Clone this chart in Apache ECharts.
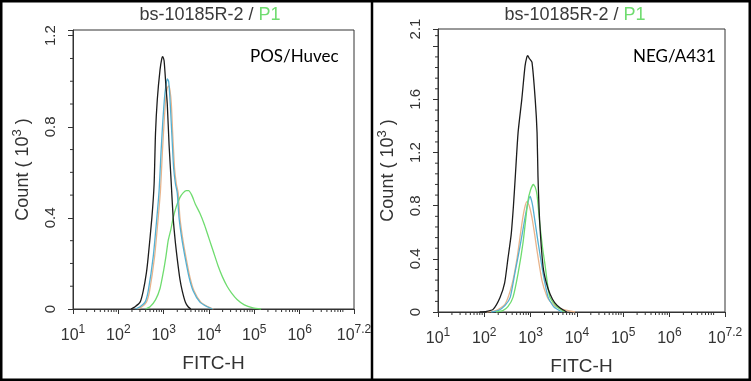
<!DOCTYPE html>
<html><head><meta charset="utf-8">
<script src="https://cdn.jsdelivr.net/npm/echarts@6/dist/echarts.min.js"></script>
<style>html,body{margin:0;padding:0;background:#fff}#c{width:751px;height:381px}</style>
</head><body><div id="c"></div>
<script>
// ---------- data (x = log10 FITC-H, y = count in 10^3) ----------
const titleMain = 'bs-10185R-2 / ';
const titleGate = 'P1';
const panelLabels = ['POS/Huvec', 'NEG/A431'];
const xTickExps = [1, 2, 3, 4, 5, 6, 7.2];
const leftYTicks = ['0', '0.4', '0.8', '1.2'];
const rightYTicks = ['0', '0.4', '0.8', '1.2', '1.6', '2.1'];

const posBlack = [[2.28,0],[2.37,0.01],[2.48,0.03],[2.55,0.08],[2.62,0.16],[2.66,0.23],[2.74,0.40],[2.79,0.55],[2.82,0.77],[2.86,0.92],[2.92,1.05],[2.96,1.10],[2.98,1.108],[3.01,1.09],[3.05,0.98],[3.08,0.90],[3.12,0.72],[3.16,0.58],[3.21,0.40],[3.26,0.29],[3.30,0.22],[3.36,0.13],[3.41,0.08],[3.48,0.03],[3.54,0.01],[3.60,0]];
const posOrange = [[2.42,0],[2.52,0.01],[2.62,0.03],[2.69,0.08],[2.80,0.23],[2.88,0.40],[2.93,0.52],[2.97,0.68],[3.01,0.82],[3.05,0.93],[3.08,0.97],[3.11,0.98],[3.14,0.96],[3.17,0.90],[3.20,0.77],[3.24,0.62],[3.28,0.55],[3.32,0.51],[3.36,0.40],[3.42,0.31],[3.49,0.23],[3.58,0.14],[3.67,0.08],[3.82,0.03],[3.98,0.01],[4.10,0]];
const posBlue = [[2.38,0],[2.48,0.01],[2.59,0.03],[2.66,0.08],[2.77,0.23],[2.85,0.40],[2.90,0.52],[2.94,0.68],[2.98,0.82],[3.02,0.93],[3.05,0.98],[3.08,1.01],[3.11,1.00],[3.14,0.92],[3.18,0.77],[3.22,0.62],[3.26,0.55],[3.30,0.51],[3.34,0.40],[3.40,0.31],[3.47,0.23],[3.56,0.14],[3.65,0.08],[3.80,0.03],[3.96,0.01],[4.08,0]];
const posGreen = [[2.60,0],[2.70,0.01],[2.82,0.04],[2.92,0.09],[3.00,0.17],[3.05,0.23],[3.10,0.30],[3.16,0.35],[3.21,0.40],[3.28,0.45],[3.36,0.49],[3.43,0.51],[3.50,0.52],[3.55,0.52],[3.62,0.50],[3.70,0.46],[3.80,0.42],[3.90,0.37],[4.00,0.31],[4.10,0.25],[4.20,0.19],[4.30,0.14],[4.40,0.10],[4.50,0.07],[4.62,0.042],[4.78,0.018],[4.97,0.005],[5.15,0]];

const negBlack = [[1.90,0],[2.05,0.005],[2.19,0.02],[2.34,0.11],[2.44,0.22],[2.51,0.40],[2.58,0.58],[2.63,0.80],[2.67,1.02],[2.73,1.35],[2.81,1.60],[2.88,1.85],[2.92,1.92],[2.94,1.93],[2.97,1.91],[3.03,1.88],[3.10,1.60],[3.14,1.35],[3.16,1.02],[3.20,0.66],[3.27,0.34],[3.34,0.22],[3.42,0.135],[3.52,0.07],[3.64,0.03],[3.78,0]];
const negOrange = [[2.05,0],[2.25,0.01],[2.45,0.06],[2.60,0.21],[2.71,0.41],[2.81,0.66],[2.87,0.78],[2.92,0.83],[2.97,0.80],[3.03,0.71],[3.09,0.58],[3.14,0.46],[3.25,0.23],[3.35,0.12],[3.42,0.08],[3.55,0.04],[3.70,0.02],[3.96,0]];
const negBlue = [[2.15,0],[2.30,0.01],[2.45,0.05],[2.56,0.11],[2.66,0.29],[2.77,0.49],[2.88,0.71],[2.94,0.82],[2.99,0.87],[3.02,0.84],[3.05,0.79],[3.10,0.67],[3.16,0.53],[3.27,0.29],[3.38,0.11],[3.50,0.04],[3.68,0]];
const negGreen = [[2.25,0],[2.40,0.01],[2.51,0.04],[2.62,0.11],[2.73,0.29],[2.84,0.53],[2.94,0.83],[3.00,0.92],[3.06,0.96],[3.10,0.94],[3.14,0.88],[3.20,0.66],[3.26,0.48],[3.31,0.36],[3.37,0.20],[3.42,0.11],[3.57,0.04],[3.74,0]];

// ---------- styling ----------
const C = {black:'#1c1c1c', orange:'#e8b48c', blue:'#54b0d2', green:'#6fdc6f', axis:'#333', text:'#333'};
const FONT = '"Liberation Sans", Arial, sans-serif';

function fmtY(labels){
  return function(v){
    for (const s of labels){ if (Math.abs(parseFloat(s) - v) < 0.02) return s; }
    if (v > 2.05 && labels.indexOf('2.1')>=0) return '2.1';
    return '';
  };
}

function minorData(yMax, yStep){
  const d = [];
  for (let dec = 1; dec <= 7; dec++){
    for (let k = 2; k <= 9; k++){
      const p = dec + Math.log10(k);
      if (p < 7.2) d.push([p, 0, 0]);
    }
  }
  for (let v = yStep; v < yMax; v += yStep){
    const r = v / 0.4;
    if (Math.abs(r - Math.round(r)) > 1e-6) d.push([1, +v.toFixed(3), 1]);
  }
  return d;
}

function renderMinor(params, api){
  const p = api.coord([api.value(0), api.value(1)]);
  const t = api.value(2);
  const shape = t === 0 ? {x1:p[0], y1:p[1], x2:p[0], y2:p[1]+3} : {x1:p[0]-3, y1:p[1], x2:p[0], y2:p[1]};
  return {type:'line', shape, style:{stroke:C.axis, lineWidth:1}};
}

const xRich = {b:{fontSize:16, lineHeight:24, color:C.text, fontFamily:FONT}, s:{fontSize:12, lineHeight:8, verticalAlign:'top', color:C.text, fontFamily:FONT}};
function xAxisFor(gi){
  return {
    gridIndex: gi, type:'value', min:1, max:7.2, interval:1,
    axisLine:{show:true, lineStyle:{color:C.axis, width:1}},
    axisTick:{show:true, length:5, lineStyle:{color:C.axis}},
    splitLine:{show:false},
    axisLabel:{margin:15, showMaxLabel:true, showMinLabel:true, fontSize:16, formatter:v => '{b|10}{s|' + (Math.round(v*10)/10) + '}', rich:xRich},
    name:'FITC-H', nameLocation:'middle', nameGap:45,
    nameTextStyle:{fontSize:19, color:C.text, fontFamily:FONT}
  };
}
function yAxisFor(gi, max, labels){
  return {
    gridIndex: gi, type:'value', min:0, max:max, interval:0.4,
    axisLine:{show:true, lineStyle:{color:C.axis, width:1}},
    axisTick:{show:true, length:5, lineStyle:{color:C.axis}},
    splitLine:{show:false},
    axisLabel:{rotate:90, margin:15, fontSize:15, color:C.text, fontFamily:FONT, showMaxLabel:true, formatter:fmtY(labels)},
    name:'{n|Count ( 10}{s|3}{n| )}', nameLocation:'middle', nameGap:38,
    nameTextStyle:{fontSize:18, color:C.text, fontFamily:FONT,
      rich:{n:{fontSize:18, lineHeight:24, color:C.text, fontFamily:FONT}, s:{fontSize:13, lineHeight:8, verticalAlign:'top', color:C.text, fontFamily:FONT}}}
  };
}
function line(data, color, gi, z){
  return {type:'line', xAxisIndex:gi, yAxisIndex:gi, data:data, showSymbol:false, smooth:0.2, z:z,
    lineStyle:{color:color, width:1.3}, silent:true, animation:false};
}

const chart = echarts.init(document.getElementById('c'), null, {renderer:'canvas'});
chart.setOption({
  animation:false,
  backgroundColor:'#fff',
  grid:[
    {left:73, top:30, width:281, height:279, show:true, borderColor:C.axis, borderWidth:1, containLabel:false},
    {left:438, top:29, width:287, height:284, show:true, borderColor:C.axis, borderWidth:1, containLabel:false}
  ],
  xAxis:[xAxisFor(0), xAxisFor(1)],
  yAxis:[yAxisFor(0, 1.225, leftYTicks), yAxisFor(1, 2.13, rightYTicks)],
  series:[
    line(posOrange, C.orange, 0, 2), line(posGreen, C.green, 0, 3), line(posBlue, C.blue, 0, 4), line(posBlack, C.black, 0, 5),
    line(negOrange, C.orange, 1, 2), line(negBlue, C.blue, 1, 3), line(negGreen, C.green, 1, 4), line(negBlack, C.black, 1, 5),
    {type:'custom', xAxisIndex:0, yAxisIndex:0, data:minorData(1.2, 0.1), renderItem:renderMinor, silent:true, clip:false},
    {type:'custom', xAxisIndex:1, yAxisIndex:1, data:minorData(2.1, 0.08), renderItem:renderMinor, silent:true, clip:false}
  ],
  graphic:[
    {type:'rect', shape:{x:1.25, y:1.25, width:748.5, height:378.5}, style:{fill:null, stroke:'#000', lineWidth:2.5}, z:100},
    {type:'line', shape:{x1:372, y1:0, x2:372, y2:381}, style:{stroke:'#000', lineWidth:2.5}, z:100},
    {type:'text', x:210, y:15, style:{text:'{a|' + titleMain + '}{g|' + titleGate + '}', align:'center', verticalAlign:'middle',
      rich:{a:{fontSize:18, fill:'#3a3a3a', fontFamily:FONT}, g:{fontSize:18, fill:C.green, fontFamily:FONT}}}},
    {type:'text', x:575, y:15, style:{text:'{a|' + titleMain + '}{g|' + titleGate + '}', align:'center', verticalAlign:'middle',
      rich:{a:{fontSize:18, fill:'#3a3a3a', fontFamily:FONT}, g:{fontSize:18, fill:C.green, fontFamily:FONT}}}},
    {type:'text', x:250, y:57, style:{text:panelLabels[0], fontSize:17, fill:'#000', fontFamily:'Lato, "Open Sans", sans-serif', verticalAlign:'middle'}},
    {type:'text', x:633, y:57, style:{text:panelLabels[1], fontSize:17, fill:'#000', fontFamily:'Lato, "Open Sans", sans-serif', verticalAlign:'middle'}}
  ]
});
</script></body></html>
